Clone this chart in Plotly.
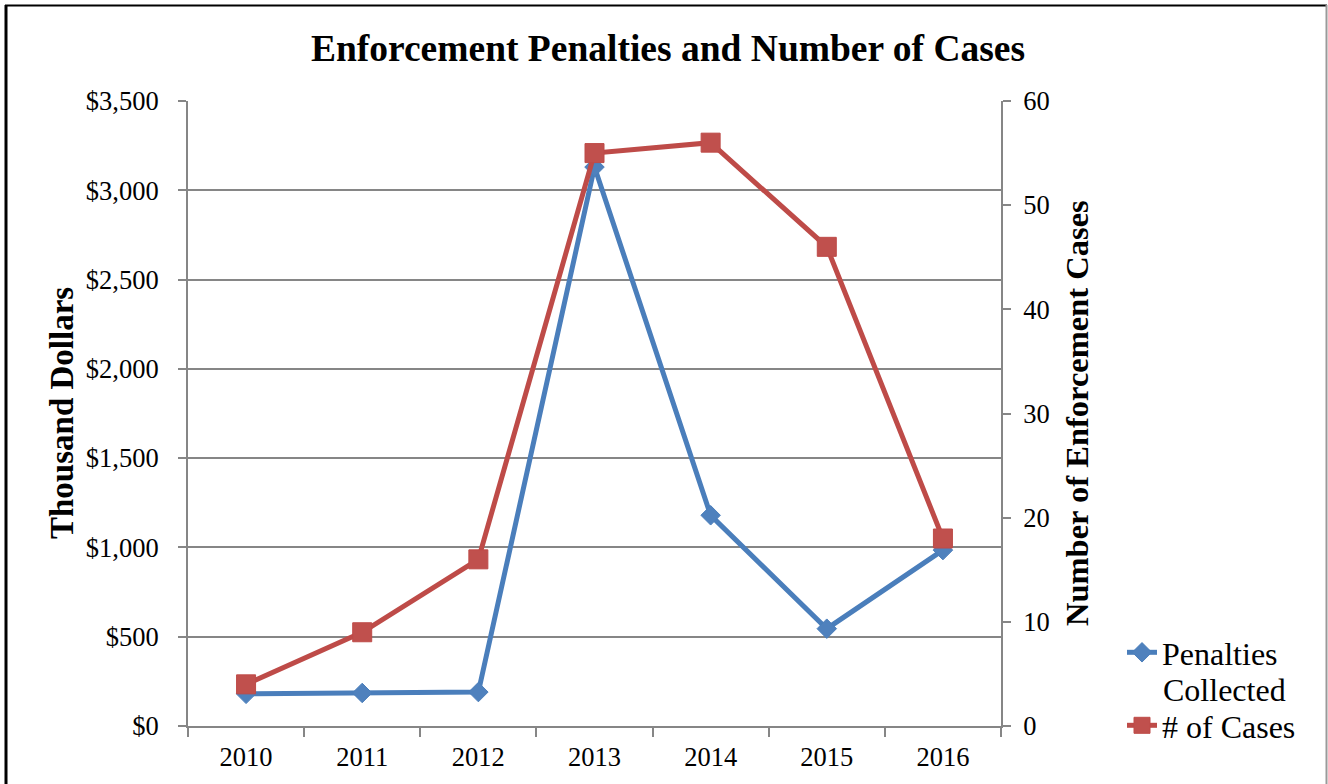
import plotly.graph_objects as go

years = ["2010", "2011", "2012", "2013", "2014", "2015", "2016"]
penalties = [180, 185, 190, 3130, 1180, 545, 985]
cases = [4, 9, 16, 55, 56, 46, 18]

FONT = "Liberation Serif, Times New Roman, serif"
GRID = "#868686"
BLUE_LINE = "#4A7EBB"
BLUE_FILL = "#4F81BD"
RED_LINE = "#BE4B48"
RED_FILL = "#C0504D"

W, H = 1328, 784
L, R, T, B = 188, 327, 101, 58
PW, PH = W - L - R, H - T - B


def px(x):
    return (x - L) / PW


def py(y):
    return (H - B - y) / PH


fig = go.Figure()
fig.add_trace(go.Scatter(
    x=years, y=penalties, name="Penalties", mode="lines+markers",
    line=dict(color=BLUE_LINE, width=5),
    marker=dict(symbol="diamond", size=15, color=BLUE_FILL, line=dict(color=BLUE_LINE, width=1)),
    yaxis="y", legend="legend",
))
fig.add_trace(go.Scatter(
    x=years, y=cases, name="# of Cases", mode="lines+markers",
    line=dict(color=RED_LINE, width=5),
    marker=dict(symbol="square", size=19, color=RED_FILL, line=dict(color=RED_LINE, width=1)),
    yaxis="y2", legend="legend2",
))

legend_common = dict(xanchor="left", yanchor="top", valign="top",
                     font=dict(family=FONT, size=32, color="black"),
                     bgcolor="rgba(0,0,0,0)", itemwidth=30)

fig.update_layout(
    width=W, height=H,
    margin=dict(l=L, r=R, t=T, b=B),
    paper_bgcolor="white", plot_bgcolor="white",
    font=dict(family=FONT, size=27, color="black"),
    title=dict(text="<b>Enforcement Penalties and Number of Cases</b>",
               x=668 / W, xanchor="center", xref="container",
               y=1 - 48 / H, yanchor="middle", yref="container",
               font=dict(family=FONT, size=37.5, color="black")),
    xaxis=dict(type="category", range=[-0.5, 6.5], showline=True, linecolor=GRID, linewidth=2,
               ticks="outside", tickson="boundaries", ticklen=9, tickcolor=GRID, tickwidth=2,
               showgrid=False, ticklabelstandoff=6, tickfont=dict(size=26.5)),
    yaxis=dict(range=[0, 3500], dtick=500, tickprefix="$", tickformat=",d",
               showline=True, linecolor=GRID, linewidth=2, ticks="outside", ticklen=8,
               tickcolor=GRID, tickwidth=2, showgrid=True, gridcolor=GRID, gridwidth=2,
               zeroline=False, ticklabelstandoff=14, tickfont=dict(size=26.5)),
    yaxis2=dict(range=[0, 60], dtick=10, overlaying="y", side="right",
                showline=True, linecolor=GRID, linewidth=2, ticks="outside", ticklen=8,
                tickcolor=GRID, tickwidth=2, showgrid=False, zeroline=False,
                ticklabelstandoff=7, tickfont=dict(size=26.5)),
    showlegend=True,
    legend=dict(x=px(1122), y=py(625), **legend_common),
    legend2=dict(x=px(1122), y=py(698), **legend_common),
    annotations=[
        dict(text="<b>Thousand Dollars</b>", x=px(62), y=py(413), xref="paper", yref="paper",
             textangle=-90, showarrow=False, xanchor="center", yanchor="middle",
             font=dict(family=FONT, size=33, color="black")),
        dict(text="<b>Number of Enforcement Cases</b>", x=px(1077), y=py(413), xref="paper", yref="paper",
             textangle=-90, showarrow=False, xanchor="center", yanchor="middle",
             font=dict(family=FONT, size=32.5, color="black")),
        dict(text="Collected", x=px(1162), y=py(690), xref="paper", yref="paper",
             showarrow=False, xanchor="left", yanchor="middle", borderpad=0,
             font=dict(family=FONT, size=32, color="black")),
    ],
    shapes=[
        dict(type="line", xref="paper", yref="paper", x0=px(6), x1=px(6), y0=py(5), y1=py(800),
             line=dict(color="black", width=3)),
        dict(type="line", xref="paper", yref="paper", x0=px(5), x1=px(1327), y0=py(5.5), y1=py(5.5),
             line=dict(color="black", width=2)),
        dict(type="line", xref="paper", yref="paper", x0=px(1326.5), x1=px(1326.5), y0=py(5), y1=py(800),
             line=dict(color="#9a9a9a", width=2)),
    ],
)

fig.write_html("out.html", config={"displayModeBar": False},
               post_script="document.body.style.margin='0';document.body.style.overflow='hidden';")
